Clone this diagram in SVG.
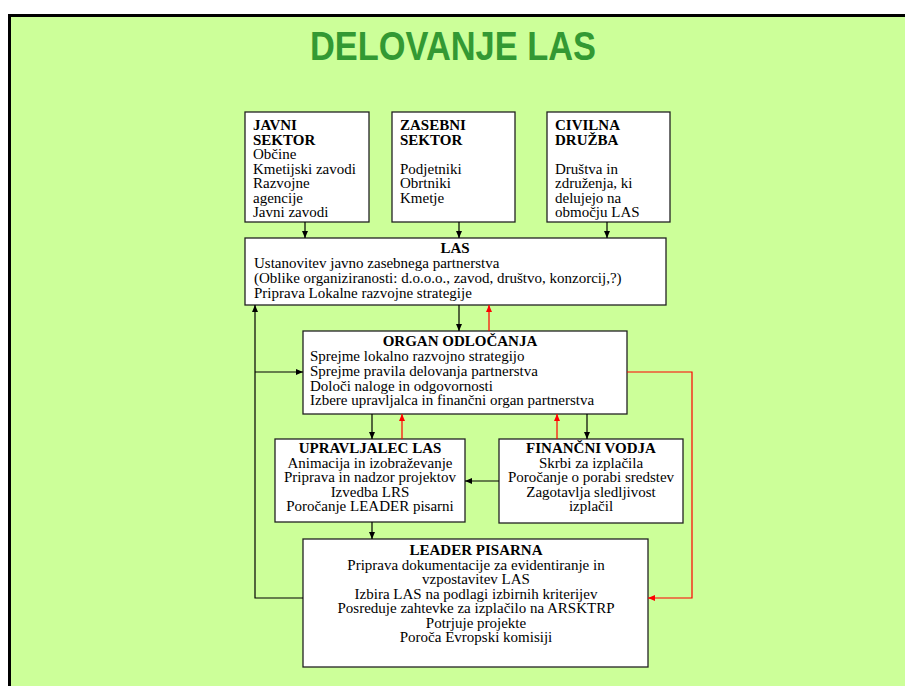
<svg xmlns="http://www.w3.org/2000/svg" width="905" height="686" viewBox="0 0 905 686">
<defs>
<style>
.box{fill:#fff;stroke:#222;stroke-width:1.3}
.t{font-family:"Liberation Serif","Times New Roman",serif;font-size:15px;fill:#000}
.b{font-weight:bold}
.c{text-anchor:middle}
.k{fill:none;stroke:#000;stroke-width:1.2}
.r{fill:none;stroke:#ff0000;stroke-width:1.2}
</style>
<marker id="ak" markerWidth="8" markerHeight="8" refX="7" refY="4" orient="auto" markerUnits="userSpaceOnUse"><path d="M0,1 L7,4 L0,7 Z" fill="#000"/></marker>
<marker id="ar" markerWidth="8" markerHeight="8" refX="7" refY="4" orient="auto" markerUnits="userSpaceOnUse"><path d="M0,1 L7,4 L0,7 Z" fill="#ff0000"/></marker>
</defs>
<rect x="0" y="0" width="905" height="686" fill="#fff"/>
<rect x="8" y="14" width="897" height="672" fill="#ccff99"/>
<path d="M9.5,686 V15.5 H905" fill="none" stroke="#000" stroke-width="3"/>
<text transform="translate(453,60) scale(0.86,1)" text-anchor="middle" font-family="Liberation Sans,Arial,sans-serif" font-weight="bold" font-size="40" fill="#339933">DELOVANJE LAS</text>

<g id="javni">
<rect class="box" x="245" y="112" width="124" height="110"/>
<text class="t" x="253" y="130"><tspan class="b">JAVNI</tspan><tspan class="b" x="253" dy="14.5">SEKTOR</tspan><tspan x="253" dy="14.5">Občine</tspan><tspan x="253" dy="14.5">Kmetijski zavodi</tspan><tspan x="253" dy="14.5">Razvojne</tspan><tspan x="253" dy="14.5">agencije</tspan><tspan x="253" dy="14.5">Javni zavodi</tspan></text>
</g>
<g id="zasebni">
<rect class="box" x="392" y="112" width="123" height="110"/>
<text class="t" x="400" y="130"><tspan class="b">ZASEBNI</tspan><tspan class="b" x="400" dy="14.5">SEKTOR</tspan><tspan x="400" dy="29">Podjetniki</tspan><tspan x="400" dy="14.5">Obrtniki</tspan><tspan x="400" dy="14.5">Kmetje</tspan></text>
</g>
<g id="civilna">
<rect class="box" x="547" y="112" width="123" height="110"/>
<text class="t" x="555" y="130"><tspan class="b">CIVILNA</tspan><tspan class="b" x="555" dy="14.5">DRUŽBA</tspan><tspan x="555" dy="29">Društva in</tspan><tspan x="555" dy="14.5">združenja, ki</tspan><tspan x="555" dy="14.5">delujejo na</tspan><tspan x="555" dy="14.5">območju LAS</tspan></text>
</g>
<g id="las">
<rect class="box" x="245" y="238" width="421" height="67"/>
<text class="t b c" x="455" y="253">LAS</text>
<text class="t" x="254" y="268"><tspan>Ustanovitev javno zasebnega partnerstva</tspan><tspan x="254" dy="15">(Oblike organiziranosti: d.o.o.o., zavod, društvo, konzorcij,?)</tspan><tspan x="254" dy="15">Priprava Lokalne razvojne strategije</tspan></text>
</g>
<g id="organ">
<rect class="box" x="303" y="331" width="324" height="83"/>
<text class="t b c" x="460" y="346">ORGAN ODLOČANJA</text>
<text class="t" x="310" y="361"><tspan>Sprejme lokalno razvojno strategijo</tspan><tspan x="310" dy="14.8">Sprejme pravila delovanja partnerstva</tspan><tspan x="310" dy="14.8">Določi naloge in odgovornosti</tspan><tspan x="310" dy="14.8">Izbere upravljalca in finančni organ partnerstva</tspan></text>
</g>
<g id="upravljalec">
<rect class="box" x="275" y="439" width="190" height="83"/>
<text class="t c" x="370" y="453"><tspan class="b">UPRAVLJALEC LAS</tspan><tspan x="370" dy="14.5">Animacija in izobraževanje</tspan><tspan x="370" dy="14.5">Priprava in nadzor projektov</tspan><tspan x="370" dy="14.5">Izvedba LRS</tspan><tspan x="370" dy="14.5">Poročanje LEADER pisarni</tspan></text>
</g>
<g id="financni">
<rect class="box" x="499" y="439" width="184" height="84"/>
<text class="t c" x="591" y="453"><tspan class="b">FINANČNI VODJA</tspan><tspan x="591" dy="14.5">Skrbi za izplačila</tspan><tspan x="591" dy="14.5">Poročanje o porabi sredstev</tspan><tspan x="591" dy="14.5">Zagotavlja sledljivost</tspan><tspan x="591" dy="14.5">izplačil</tspan></text>
</g>
<g id="leader">
<rect class="box" x="303" y="539" width="345" height="128"/>
<text class="t c" x="476" y="555"><tspan class="b">LEADER PISARNA</tspan><tspan x="476" dy="14.5">Priprava dokumentacije za evidentiranje in</tspan><tspan x="476" dy="14.5">vzpostavitev LAS</tspan><tspan x="476" dy="14.5">Izbira LAS na podlagi izbirnih kriterijev</tspan><tspan x="476" dy="14.5">Posreduje zahtevke za izplačilo na ARSKTRP</tspan><tspan x="476" dy="14.5">Potrjuje projekte</tspan><tspan x="476" dy="14.5">Poroča Evropski komisiji</tspan></text>
</g>

<g id="connectors">
<path class="k" d="M305,222 V238" marker-end="url(#ak)"/>
<path class="k" d="M459,222 V238" marker-end="url(#ak)"/>
<path class="k" d="M607,222 V238" marker-end="url(#ak)"/>
<path class="k" d="M459,305 V331" marker-end="url(#ak)"/>
<path class="r" d="M489,331 V305" marker-end="url(#ar)"/>
<path class="k" d="M303,598 H255 V305" marker-end="url(#ak)"/>
<path class="k" d="M255,372 H303" marker-end="url(#ak)"/>
<path class="r" d="M627,372 H692 V598 H648" marker-end="url(#ar)"/>
<path class="k" d="M372,414 V439" marker-end="url(#ak)"/>
<path class="r" d="M402,439 V414" marker-end="url(#ar)"/>
<path class="r" d="M557,439 V414" marker-end="url(#ar)"/>
<path class="k" d="M587,414 V439" marker-end="url(#ak)"/>
<path class="k" d="M499,481 H465" marker-end="url(#ak)"/>
<path class="k" d="M372,522 V539" marker-end="url(#ak)"/>
</g>
</svg>
